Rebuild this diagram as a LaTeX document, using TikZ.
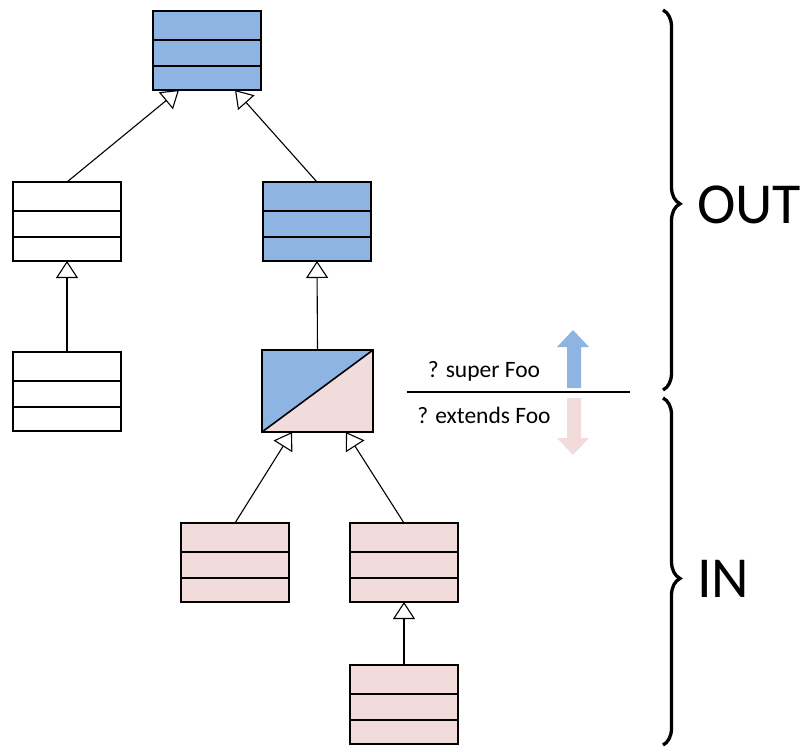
\documentclass[tikz,border=0pt]{standalone}
\usepackage{fontspec}
\setmainfont{Carlito}
\usetikzlibrary{arrows.meta,decorations.pathreplacing}
\definecolor{cblue}{HTML}{8EB4E3}
\definecolor{cpink}{HTML}{F2DCDB}
\tikzset{
  cls/.style={draw=black, line width=1.6pt, minimum width=108pt, minimum height=79pt,
              inner sep=0pt, outer sep=0pt, anchor=north west},
  divider/.style={line width=1.6pt},
  inh/.style={line width=1.1pt, -{Triangle[open, length=17pt, width=22pt, line width=1.1pt]}},
  bigbrace/.style={line width=3.3pt, decorate, decoration={brace, amplitude=17pt}},
  lbl/.style={font=\fontsize{23.5}{27}\selectfont, inner sep=0pt},
  biglbl/.style={font=\fontsize{58}{66}\selectfont, inner sep=0pt, anchor=base west}
}
\newcommand\umlcls[4]{%
  \node[cls, fill=#4] (#1) at (#2,#3) {};
  \draw[divider] ([yshift=-29pt]#1.north west) -- ([yshift=-29pt]#1.north east);
  \draw[divider] ([yshift=-55pt]#1.north west) -- ([yshift=-55pt]#1.north east);
}
\begin{document}
\begin{tikzpicture}[x=1pt,y=-1pt]
\useasboundingbox (0,0) rectangle (803,749);
\umlcls{A}{153}{11}{cblue}
\umlcls{B}{13}{182}{white}
\umlcls{C}{263}{182}{cblue}
\umlcls{D}{13}{352}{white}
\umlcls{F}{181}{523}{cpink}
\umlcls{G}{350}{523}{cpink}
\umlcls{H}{350}{665}{cpink}
% split class box
\node[cls, draw=none, minimum width=111pt, minimum height=82pt] (E) at (262,350) {};
\fill[cpink] (E.north west) rectangle (E.south east);
\fill[cblue] (E.north west) -- (E.north east) -- (E.south west) -- cycle;
\draw[line width=1.6pt] (E.south west) -- (E.north east);
\draw[line width=1.6pt] (E.north west) rectangle (E.south east);
% inheritance connectors
\draw[inh] (B.north) -- ([xshift=26pt]A.south west);
\draw[inh] (C.north) -- ([xshift=-26pt]A.south east);
\draw[inh] (D.north) -- (B.south);
\draw[inh] (E.north) -- (C.south);
\draw[inh] (F.north) -- ([xshift=30pt]E.south west);
\draw[inh] (G.north) -- ([xshift=-27pt]E.south east);
\draw[inh] (H.north) -- (G.south);
% legend
\coordinate (sepL) at (407,392);
\coordinate (sepR) at (630,392);
\draw[line width=1.5pt] (sepL) -- (sepR);
\node[lbl, anchor=base] (sup) at (484,377) {? super Foo};
\node[lbl, anchor=base] (ext) at (484,423) {? extends Foo};
\fill[cblue] (567,388) -- (567,347) -- (557,347) -- (573,330) -- (589,347) -- (581,347) -- (581,388) -- cycle;
\fill[cpink] (567,398) -- (567,438) -- (557,438) -- (573,455) -- (589,438) -- (581,438) -- (581,398) -- cycle;
% braces
\coordinate (o1) at (663,10);
\coordinate (o2) at (663,390);
\coordinate (i1) at (663,398);
\coordinate (i2) at (663,745);
\draw[bigbrace, decoration={aspect=0.51}] (o1) -- (o2);
\draw[bigbrace, decoration={aspect=0.52}] (i1) -- (i2);
\node[biglbl] (out) at (697,223) {OUT};
\node[biglbl] (in) at (697,597) {IN};
\end{tikzpicture}
\end{document}
